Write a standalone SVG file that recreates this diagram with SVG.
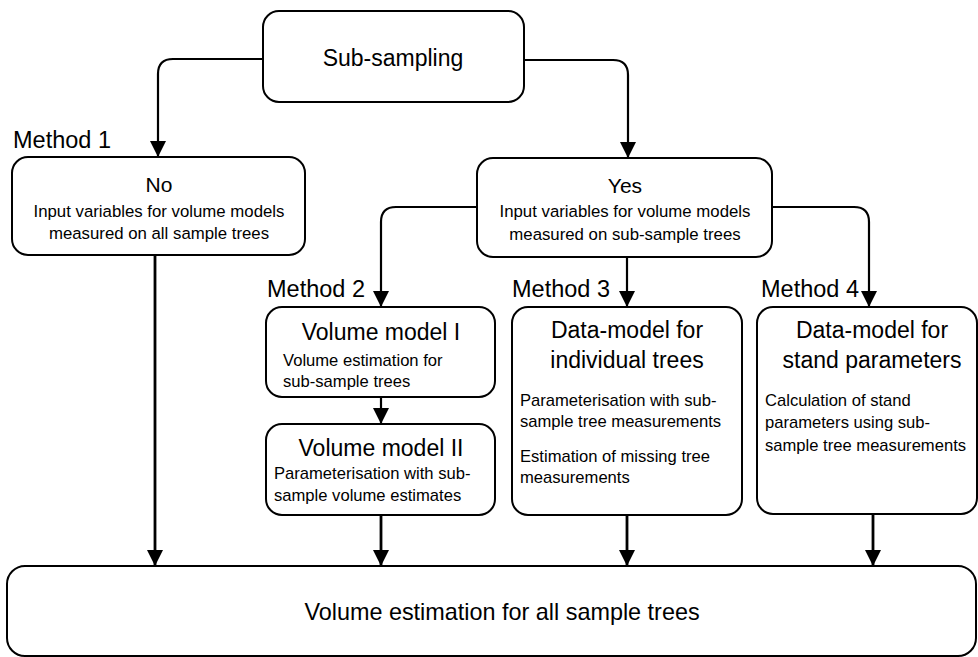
<svg xmlns="http://www.w3.org/2000/svg" width="978" height="657" viewBox="0 0 978 657">
<defs>
<style>
.box{fill:#fff;stroke:#000;stroke-width:2}
.t{font-family:"Liberation Sans",Arial,sans-serif;fill:#000}
.ttl{font-size:23px;text-anchor:middle}
.lab{font-size:23.5px}
.sub{font-size:16.6px}
.subc{font-size:16.8px;text-anchor:middle}
.con{fill:none;stroke:#000;stroke-width:2.2}
</style>
<marker id="ah" markerUnits="userSpaceOnUse" markerWidth="16" markerHeight="16" viewBox="0 0 14 14" refX="14" refY="7" orient="auto">
<path d="M0,0 L14,7 L0,14 Z" fill="#000"/>
</marker>
</defs>
<rect width="978" height="657" fill="#fff"/>

<g id="connectors">
<path class="con" d="M263,59 H173 Q158,59 158,74 V157" marker-end="url(#ah)"/>
<path class="con" d="M524,60 H613 Q628,60 628,75 V158" marker-end="url(#ah)"/>
<path class="con" d="M477,207 H396 Q381,207 381,222 V307" marker-end="url(#ah)"/>
<path class="con" d="M772,207 H854 Q869,207 869,222 V307" marker-end="url(#ah)"/>
<path class="con" d="M627,257 V307" marker-end="url(#ah)"/>
<path class="con" d="M381,397 V424" marker-end="url(#ah)"/>
<path class="con" d="M155,255 V566" marker-end="url(#ah)" style="stroke-width:2.8"/>
<path class="con" d="M381,515 V566" marker-end="url(#ah)" style="stroke-width:2.8"/>
<path class="con" d="M627,515 V566" marker-end="url(#ah)" style="stroke-width:2.8"/>
<path class="con" d="M873,514 V566" marker-end="url(#ah)" style="stroke-width:2.8"/>
</g>

<g id="subsampling">
<rect class="box" x="263" y="11" width="261" height="91" rx="16"/>
<text class="t ttl" x="393" y="66">Sub-sampling</text>
</g>

<g id="labels">
<text class="t lab" x="13" y="148">Method 1</text>
<text class="t lab" x="267" y="297">Method 2</text>
<text class="t lab" x="512" y="297">Method 3</text>
<text class="t lab" x="761" y="297">Method 4</text>
</g>

<g id="no">
<rect class="box" x="12" y="157" width="293" height="98" rx="16"/>
<text class="t" x="159" y="192" style="font-size:21px;text-anchor:middle">No</text>
<text class="t subc" x="159" y="217">Input variables for volume models</text>
<text class="t subc" x="159" y="239">measured on all sample trees</text>
</g>

<g id="yes">
<rect class="box" x="477" y="158" width="295" height="99" rx="16"/>
<text class="t" x="625" y="193" style="font-size:21px;text-anchor:middle">Yes</text>
<text class="t subc" x="625" y="217">Input variables for volume models</text>
<text class="t subc" x="625" y="240">measured on sub-sample trees</text>
</g>

<g id="vm1">
<rect class="box" x="266" y="307" width="229" height="90" rx="16"/>
<text class="t ttl" x="381" y="340">Volume model I</text>
<text class="t sub" x="283" y="366">Volume estimation for</text>
<text class="t sub" x="283" y="387">sub-sample trees</text>
</g>

<g id="vm2">
<rect class="box" x="266" y="424" width="229" height="91" rx="16"/>
<text class="t ttl" x="381" y="456">Volume model II</text>
<text class="t sub" x="274" y="479">Parameterisation with sub-</text>
<text class="t sub" x="274" y="501">sample volume estimates</text>
</g>

<g id="dm-individual">
<rect class="box" x="512" y="307" width="230" height="208" rx="16"/>
<text class="t ttl" x="627" y="338">Data-model for</text>
<text class="t ttl" x="627" y="368">individual trees</text>
<text class="t sub" x="520" y="406">Parameterisation with sub-</text>
<text class="t sub" x="520" y="427">sample tree measurements</text>
<text class="t sub" x="520" y="462">Estimation of missing tree</text>
<text class="t sub" x="520" y="483">measurements</text>
</g>

<g id="dm-stand">
<rect class="box" x="757" y="307" width="220" height="207" rx="16"/>
<text class="t ttl" x="872" y="338">Data-model for</text>
<text class="t ttl" x="872" y="368">stand parameters</text>
<text class="t sub" x="765" y="406">Calculation of stand</text>
<text class="t sub" x="765" y="428">parameters using sub-</text>
<text class="t sub" x="765" y="451">sample tree measurements</text>
</g>

<g id="final">
<rect class="box" x="7" y="566" width="969" height="90" rx="18"/>
<text class="t" x="502" y="620" style="font-size:23.4px;text-anchor:middle">Volume estimation for all sample trees</text>
</g>
</svg>
